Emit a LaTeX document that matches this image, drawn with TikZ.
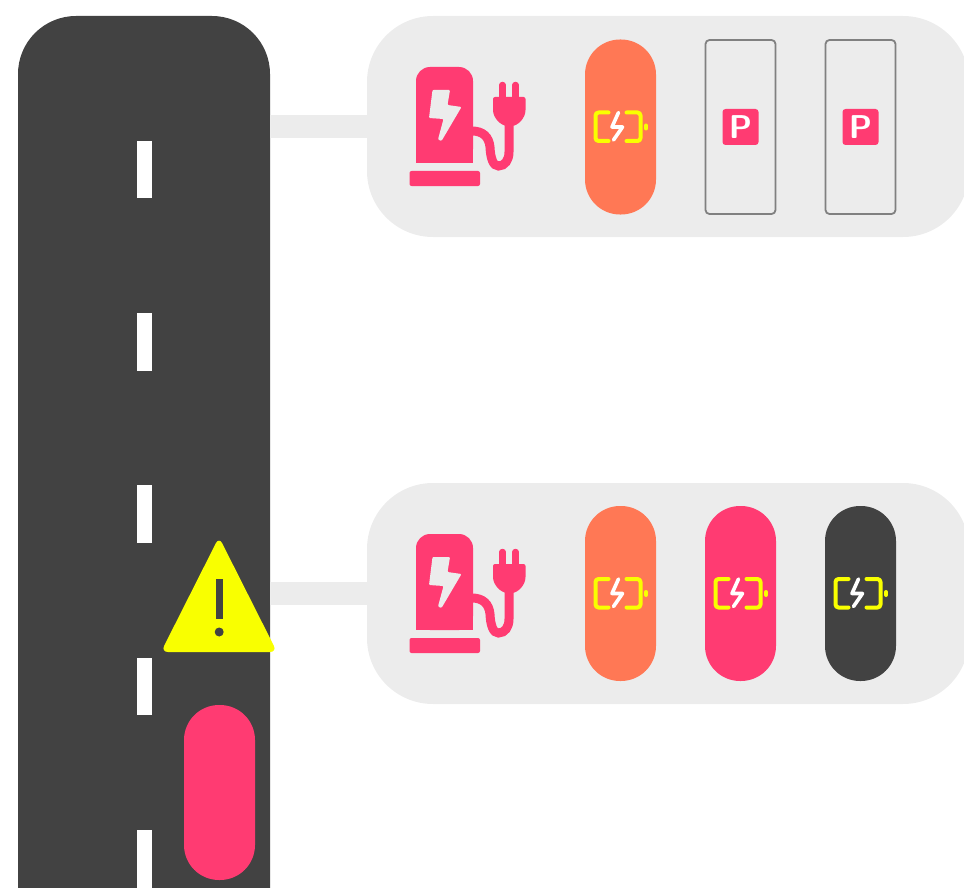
\documentclass[tikz,border=0pt]{standalone}
\usepackage{tikz}
\usetikzlibrary{positioning}
\definecolor{asphalt}{HTML}{424242}
\definecolor{panelgray}{HTML}{ECECEC}
\definecolor{hotpink}{HTML}{FF3B72}
\definecolor{coral}{HTML}{FF7855}
\definecolor{warnyellow}{HTML}{F9FF00}
\tikzset{
  road/.style      = {fill=asphalt, minimum width=252pt, minimum height=1000pt,
                      rounded corners=58pt, inner sep=0pt},
  panel/.style     = {fill=panelgray, minimum width=602pt, minimum height=221pt,
                      rounded corners=66pt, inner sep=0pt},
  slotfull/.style  = {minimum width=71pt, minimum height=175pt,
                      rounded corners=35pt, inner sep=0pt},
  slotfree/.style  = {draw=gray, line width=1.8pt, minimum width=70pt, minimum height=174pt,
                      rounded corners=4pt, inner sep=0pt},
  link/.style      = {panelgray, line width=23pt},
  lane/.style      = {fill=white, minimum width=15pt, minimum height=57.5pt, inner sep=0pt},
  psign/.style     = {fill=hotpink, minimum width=36pt, minimum height=36pt, rounded corners=3pt,
                      inner sep=0pt, text=white, font=\fontsize{33}{33}\sffamily\bfseries},
  batline/.style   = {warnyellow, line width=4pt, line cap=round, line join=round, rounded corners=3pt},
  charger/.pic = {
    \fill[hotpink, rounded corners=14pt] (16,163) -- (16,67) -- (73,67) -- (73,163) -- cycle;
    \fill[hotpink] (16,150) rectangle (73,163);
    \fill[hotpink, rounded corners=2pt] (9.5,171) rectangle (80,186);
    \fill[panelgray, rounded corners=1pt] (32.5,90) -- (50,90) -- (47.5,105) -- (61.5,107)
        -- (41.5,141) -- (38,139.5) -- (43.5,119) -- (29,118) -- cycle;
    \draw[hotpink, line width=9pt] (72,131) .. controls (83,131) and (89,137) .. (90,147)
        .. controls (90.5,158) and (93,166) .. (98.5,166) .. controls (105,166) and (109,160) .. (109,152)
        -- (109,120);
    \fill[hotpink, rounded corners=2pt] (93,97) -- (125.5,97) -- (125.5,108)
        .. controls (125.5,118) and (118,126) .. (109.5,126) .. controls (101,126) and (93,118) .. (93,108) -- cycle;
    \draw[hotpink, line width=6.5pt, line cap=round] (102.5,85) -- (102.5,100) (115.5,85) -- (115.5,100);
  },
  battery/.pic = {
    \draw[batline] (-12,-14.5) -- (-25,-14.5) -- (-25,14) -- (-12,14);
    \draw[batline] (6,-14.5) -- (20,-14.5) -- (20,14) -- (6,14);
    \draw[batline] (25.5,-1.5) -- (25.5,1.5);
    \draw[white, line width=3.6pt, line cap=round, line join=round]
        (-2,-14.5) -- (-8.5,0) -- (2,0) -- (-7,13);
  },
}

\begin{document}
\begin{tikzpicture}[x=1pt,y=-1pt]
  \useasboundingbox (0,0) rectangle (964,888);
  \clip (0,0) rectangle (964,888);
  % road and lane marks
  \node[road] (road) at (144,516) {};
  \foreach \y/\n in {169.5/1,342/2,514/3,686.5/4,859/5}
    \node[lane] (lane\n) at (144.5,\y) {};
  % stations
  \node[panel] (stationA) at (668,126.5) {};
  \node[panel] (stationB) at (668,593.5) {};
  \draw[link] (stationA.west -| road.east) -- (stationA.west);
  \draw[link] (stationB.west -| road.east) -- (stationB.west);
  \pic at (400,0) {charger};
  \pic at (400,467) {charger};
  % upper row
  \node[slotfull,fill=coral] (slotA) at (620.5,127) {};
  \pic at (slotA) {battery};
  \node[slotfree] (slotB) at (740.5,127) {};
  \node[psign] (signB) at (740.5,127) {P};
  \node[slotfree] (slotC) at (860.5,127) {};
  \node[psign] (signC) at (860.5,127) {P};
  % lower row
  \node[slotfull,fill=coral] (slotD) at (620.5,593.5) {};
  \pic at (slotD) {battery};
  \node[slotfull,fill=hotpink] (slotE) at (740.5,593.5) {};
  \pic at (slotE) {battery};
  \node[slotfull,fill=asphalt] (slotF) at (860.5,593.5) {};
  \pic at (slotF) {battery};
  % car and warning
  \node[slotfull,fill=hotpink] (car) at (219.5,792.5) {};
  \fill[warnyellow, rounded corners=7pt] (219,537) -- (277,652) -- (161,652) -- cycle;
  \fill[asphalt] (216,579) rectangle (222.5,619);
  \fill[asphalt] (219.2,632) circle (4.5pt);
\end{tikzpicture}
\end{document}
